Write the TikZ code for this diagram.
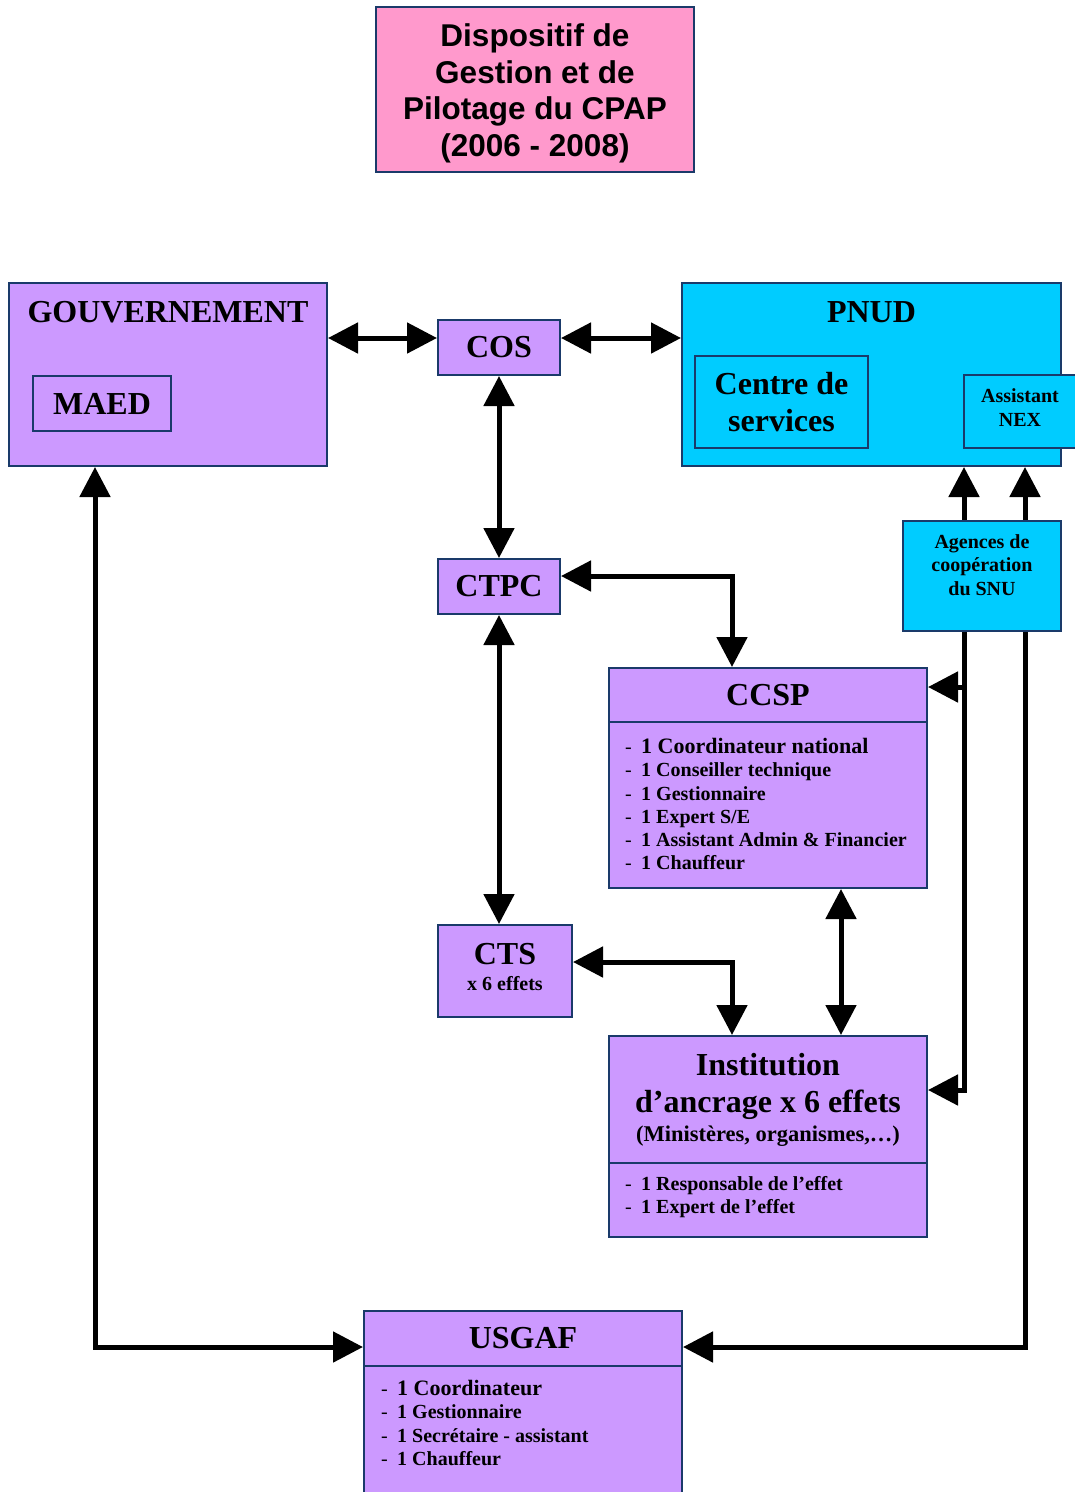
\documentclass[tikz,border=0pt]{standalone}
\usepackage{fontspec}
\setmainfont{Liberation Serif}
\newfontfamily\titlefont{Liberation Sans}
\usetikzlibrary{arrows.meta}
\definecolor{mauve}{HTML}{CC99FF}
\definecolor{ciel}{HTML}{00CCFF}
\definecolor{rose}{HTML}{FF99CC}
\definecolor{bord}{HTML}{1A3A6A}
\newcommand{\headsize}{\fontsize{32}{37}\selectfont}
\newcommand{\itemsize}{\fontsize{20}{23.3}\selectfont}
\newcommand{\firstsize}{\fontsize{22}{23.3}\selectfont}
\newcommand{\tiret}{\makebox[16pt][l]{\mdseries -}}

\begin{document}
\begin{tikzpicture} [
                x=1pt, y=-1pt,
                box/.style = {draw=bord, line width=2pt, fill=mauve, inner sep=0pt, align=center, font=\bfseries\headsize},
                blue box/.style = {box, fill=ciel},
                head/.style = {font=\bfseries\headsize, align=center, inner sep=0pt},
                small text/.style = {font=\bfseries\itemsize, align=center, inner sep=0pt},
                list text/.style = {font=\bfseries\itemsize, align=left, anchor=north west, inner sep=0pt},
                edge/.style = {draw, line width=5pt, {Triangle[length=30pt,width=30pt]}-{Triangle[length=30pt,width=30pt]}},
                arrow/.style = {draw, line width=5pt, -{Triangle[length=30pt,width=30pt]}}
            ]
        \useasboundingbox (0,0) rectangle (1075,1492);
        % First we draw the boxes
            \node[box, fill=rose, minimum width=318pt, minimum height=165pt] (titre) at (535,89.5) {};
            \node[font={\titlefont\bfseries\fontsize{31.5}{36.7}\selectfont}, align=center, inner sep=0pt]
                (titretexte) at (535,93.5) {Dispositif de\\Gestion et de\\Pilotage du CPAP\\(2006 - 2008)};
            \node[box, minimum width=318pt, minimum height=183pt] (gouv) at (168,374.5) {};
            \node[head] (gouvtitre) at (168,312) {GOUVERNEMENT};
            \node[box, minimum width=138pt, minimum height=55pt] (maed) at (102,403.5) {MAED};
            \node[box, minimum width=122pt, minimum height=55pt] (cos) at (499,347.5) {COS};
            \node[blue box, minimum width=379pt, minimum height=183pt] (pnud) at (871.5,374.5) {};
            \node[head] (pnudtitre) at (871.5,312) {PNUD};
            \node[blue box, minimum width=173pt, minimum height=92pt] (centre) at (781.5,402) {Centre de\\services};
            \node[blue box, minimum width=114pt, minimum height=73pt] (nex) at (1021,411.5) {};
            \node[small text] (nextexte) at (1020,407.5) {Assistant\\NEX};
            \node[blue box, minimum width=158pt, minimum height=110pt] (agences) at (982,576) {};
            \node[small text] (agencestexte) at (982,565) {Agences de\\coopération\\du SNU};
            \node[box, minimum width=122pt, minimum height=55pt] (ctpc) at (499,586.5) {CTPC};
            \node[box, minimum width=318pt, minimum height=54pt] (ccsp) at (768,695) {CCSP};
            \node[box, minimum width=318pt, minimum height=166pt] (ccsplist) at (768,805) {};
            \node[list text] (ccsptexte) at (625,738)
                {\tiret{\firstsize 1 Coordinateur national}\\
                 \tiret 1 Conseiller technique\\
                 \tiret 1 Gestionnaire\\
                 \tiret 1 Expert S/E\\
                 \tiret 1 Assistant Admin \& Financier\\
                 \tiret 1 Chauffeur};
            \node[box, minimum width=134pt, minimum height=92pt] (cts) at (505,971) {};
            \node[head] (ctstexte) at (505,967)
                {CTS\\[-11pt]{\fontsize{20}{23}\selectfont x 6 effets}};
            \node[box, minimum width=318pt, minimum height=127pt] (inst) at (768,1099.5)
                {Institution\\d’ancrage x 6 effets\\[-8pt]{\fontsize{22.5}{26}\selectfont (Ministères, organismes,…)}};
            \node[box, minimum width=318pt, minimum height=74pt] (instlist) at (768,1200) {};
            \node[list text] (insttexte) at (625,1176)
                {\tiret 1 Responsable de l’effet\\
                 \tiret 1 Expert de l’effet};
            \node[box, minimum width=318pt, minimum height=55pt] (usgaf) at (523,1338.5) {USGAF};
            \node[box, minimum width=318pt, minimum height=130pt] (usgaflist) at (523,1431) {};
            \node[list text] (usgaftexte) at (381,1380)
                {\tiret{\firstsize 1 Coordinateur}\\
                 \tiret 1 Gestionnaire\\
                 \tiret 1 Secrétaire - assistant\\
                 \tiret 1 Chauffeur};
        % Points where the connectors meet the boxes
            \coordinate (cosin) at ([yshift=9.5pt]cos.west);
            \coordinate (cosout) at ([yshift=9.5pt]cos.east);
            \coordinate (snug) at ([xshift=-18pt]agences.south);
            \coordinate (snud) at ([xshift=43pt]agences.south);
            \coordinate (ccspin) at ([yshift=8pt]ccsp.east);
            \coordinate (instin) at ([yshift=9.5pt]inst.east);
            \coordinate (usgafin) at ([yshift=-8.5pt]usgaf.east);
            \coordinate (usgafout) at ([yshift=-8.5pt]usgaf.west);
        % Connect boxes with double arrows
            \path[edge] (gouv.east |- cosin) -- (cosin);
            \path[edge] (cosout) -- (pnud.west |- cosout);
            \path[edge] (cos.south) -- (ctpc.north);
            \path[edge] (ctpc.south) -- (ctpc.south |- cts.north);
            \path[edge] ([yshift=10.5pt]ctpc.east) -| ([xshift=-36pt]ccsp.north);
            \path[edge] ([yshift=9pt]cts.east) -| ([xshift=-36pt]inst.north);
            \path[edge] ([xshift=73pt]ccsplist.south) -- ([xshift=73pt]inst.north);
            \path[edge] ([xshift=-73pt]gouv.south) |- (usgafout);
        % the SNU agencies
            \path[arrow] ([xshift=-18pt]agences.north) -- ([xshift=-18pt]agences.north |- pnud.south);
            \path[arrow] ([xshift=43pt]agences.north) -- ([xshift=43pt]agences.north |- pnud.south);
            \path[arrow] (snug) |- (instin);
            \path[arrow] (snug |- ccspin) -- (ccspin);
            \path[arrow] (snud) |- (usgafin);
        \end{tikzpicture}
\end{document}
